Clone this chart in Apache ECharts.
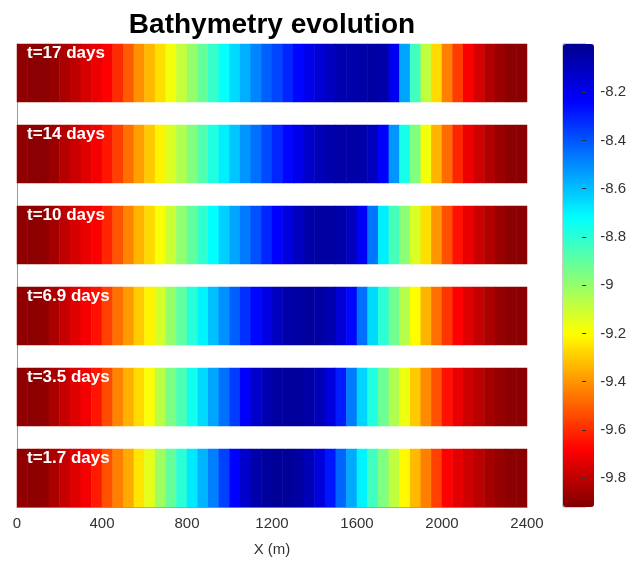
<!DOCTYPE html>
<html lang="en">

<head>
    <meta charset="UTF-8">
    <title>Bathymetry evolution</title>
    <script src="https://cdn.jsdelivr.net/npm/echarts@6/dist/echarts.min.js"></script>
    <style>
        body {
            margin: 0;
            padding: 0;
        }
    </style>
</head>

<body>
    <div id="chart" style="width: 629px;height: 563px;"></div>
    <script>
        // cell centres along the profile (m)
        var xCenters = [25, 75, 125, 175, 225, 275, 325, 375, 425, 475, 525, 575,
            625, 675, 725, 775, 825, 875, 925, 975, 1025, 1075, 1125, 1175,
            1225, 1275, 1325, 1375, 1425, 1475, 1525, 1575, 1625, 1675, 1725, 1775,
            1825, 1875, 1925, 1975, 2025, 2075, 2125, 2175, 2225, 2275, 2325, 2375];
        var xTicks = [0, 400, 800, 1200, 1600, 2000, 2400];
        var colorbarTicks = [-9.8, -9.6, -9.4, -9.2, -9, -8.8, -8.6, -8.4, -8.2];
        var times = ['t=17 days', 't=14 days', 't=10 days', 't=6.9 days', 't=3.5 days', 't=1.7 days'];

        var depth17 = [-9.89, -9.9, -9.9, -9.88, -9.84, -9.80, -9.76, -9.72, -9.68, -9.60, -9.51, -9.41,
            -9.33, -9.26, -9.18, -9.09, -9.00, -8.91, -8.82, -8.73, -8.65, -8.57, -8.49, -8.42,
            -8.37, -8.31, -8.25, -8.20, -8.15, -8.10, -8.07, -8.06, -8.05, -8.04, -8.06, -8.21,
            -8.55, -8.84, -9.08, -9.27, -9.44, -9.57, -9.69, -9.76, -9.83, -9.87, -9.9, -9.9];
        var depth14 = [-9.89, -9.9, -9.9, -9.87, -9.82, -9.78, -9.74, -9.70, -9.64, -9.56, -9.47, -9.38,
            -9.30, -9.22, -9.13, -9.05, -8.96, -8.87, -8.78, -8.69, -8.61, -8.52, -8.45, -8.38,
            -8.31, -8.25, -8.19, -8.13, -8.09, -8.06, -8.05, -8.05, -8.06, -8.10, -8.24, -8.52,
            -8.76, -8.96, -9.18, -9.34, -9.48, -9.61, -9.71, -9.77, -9.83, -9.87, -9.9, -9.9];
        var depth10 = [-9.89, -9.9, -9.89, -9.85, -9.80, -9.76, -9.72, -9.69, -9.61, -9.52, -9.43, -9.34,
            -9.27, -9.19, -9.10, -8.99, -8.90, -8.81, -8.72, -8.63, -8.55, -8.47, -8.39, -8.31,
            -8.24, -8.17, -8.10, -8.06, -8.04, -8.04, -8.06, -8.10, -8.22, -8.46, -8.69, -8.85,
            -8.98, -9.13, -9.26, -9.40, -9.53, -9.65, -9.72, -9.78, -9.83, -9.87, -9.9, -9.9];
        var depth6_9 = [-9.89, -9.9, -9.89, -9.84, -9.79, -9.74, -9.70, -9.65, -9.56, -9.47, -9.39, -9.30,
            -9.22, -9.12, -9.00, -8.90, -8.79, -8.70, -8.60, -8.51, -8.42, -8.33, -8.25, -8.18,
            -8.11, -8.06, -8.04, -8.03, -8.04, -8.07, -8.15, -8.25, -8.45, -8.65, -8.80, -8.93,
            -9.06, -9.20, -9.34, -9.47, -9.58, -9.68, -9.74, -9.79, -9.84, -9.88, -9.9, -9.9];
        var depth3_5 = [-9.89, -9.9, -9.89, -9.84, -9.79, -9.74, -9.70, -9.64, -9.54, -9.43, -9.35, -9.27,
            -9.19, -9.07, -8.95, -8.86, -8.75, -8.65, -8.55, -8.45, -8.35, -8.23, -8.13, -8.07,
            -8.04, -8.03, -8.03, -8.05, -8.09, -8.17, -8.29, -8.47, -8.64, -8.78, -8.92, -9.05,
            -9.17, -9.30, -9.42, -9.53, -9.65, -9.72, -9.77, -9.81, -9.85, -9.88, -9.9, -9.9];
        var depth1_7 = [-9.89, -9.9, -9.89, -9.84, -9.79, -9.74, -9.70, -9.63, -9.53, -9.44, -9.36, -9.25,
            -9.15, -9.02, -8.91, -8.80, -8.68, -8.58, -8.48, -8.36, -8.24, -8.13, -8.06, -8.03,
            -8.02, -8.02, -8.04, -8.08, -8.16, -8.28, -8.43, -8.56, -8.70, -8.84, -8.96, -9.08,
            -9.21, -9.33, -9.44, -9.56, -9.68, -9.73, -9.77, -9.81, -9.85, -9.88, -9.9, -9.9];
        var profiles = [depth17, depth14, depth10, depth6_9, depth3_5, depth1_7];

        var plotLeft = 17, plotWidth = 510, plotTop = 44;
        var stripH = 58, stripStep = 81;
        var font = '"Liberation Sans", Arial, sans-serif';

        var grids = [], xAxes = [], yAxes = [], series = [], labels = [];
        profiles.forEach(function (vals, i) {
            var top = plotTop + i * stripStep;
            grids.push({ left: plotLeft, top: top, width: plotWidth, height: stripH });
            xAxes.push({ type: 'category', gridIndex: i, data: xCenters, show: false });
            yAxes.push({ type: 'category', gridIndex: i, data: [times[i]], show: false });
            series.push({
                type: 'heatmap',
                xAxisIndex: i,
                yAxisIndex: i,
                data: vals.map(function (v, k) { return [k, 0, v]; }),
                itemStyle: { borderWidth: 0 },
                emphasis: { disabled: true }
            });
            labels.push({
                type: 'text',
                x: plotLeft + 10,
                y: top + 1,
                z: 100,
                style: {
                    text: times[i],
                    font: 'bold 17px ' + font,
                    fill: '#fff',
                    textAlign: 'left',
                    textVerticalAlign: 'top'
                }
            });
        });

        var plain = function (v) { return String(v); };

        // frame + x axis for the whole stack
        grids.push({ left: plotLeft, top: plotTop, width: plotWidth, height: stripStep * 5 + stripH });
        xAxes.push({
            type: 'value', gridIndex: 6, min: 0, max: 2400, interval: 400,
            name: 'X (m)', nameLocation: 'middle', nameGap: 35,
            nameTextStyle: { fontSize: 15, color: '#333', fontFamily: font },
            axisLine: { lineStyle: { color: '#999' } },
            axisTick: { show: false },
            splitLine: { show: false },
            axisLabel: { fontSize: 15, color: '#333', fontFamily: font, margin: 9,
                customValues: xTicks, formatter: plain }
        });
        yAxes.push({
            type: 'value', gridIndex: 6, min: 0, max: 1,
            axisLine: { show: true, onZero: false, lineStyle: { color: '#999' } },
            axisTick: { show: false }, axisLabel: { show: false }, splitLine: { show: false }
        });

        // colorbar ticks
        var cbLeft = 563, cbWidth = 31;
        grids.push({ left: cbLeft, top: plotTop, width: cbWidth, height: stripStep * 5 + stripH,
            show: true, borderColor: '#999', borderWidth: 1, backgroundColor: 'transparent' });
        xAxes.push({ type: 'category', gridIndex: 7, data: [''], show: false });
        yAxes.push({
            type: 'value', gridIndex: 7, position: 'right', min: -9.92, max: -8.0,
            z: 10,
            axisLine: { show: false, onZero: false },
            axisTick: { show: true, inside: true, length: 4, customValues: colorbarTicks,
                lineStyle: { color: '#333' } },
            splitLine: { show: false },
            axisLabel: { fontSize: 15, color: '#333', fontFamily: font, margin: 14,
                customValues: colorbarTicks, formatter: plain }
        });

        labels.push({
            type: 'text',
            x: plotLeft + plotWidth / 2,
            y: 11,
            style: {
                text: 'Bathymetry evolution',
                font: 'bold 28px ' + font,
                fill: '#000',
                textAlign: 'center',
                textVerticalAlign: 'top'
            }
        });

        var chart = echarts.init(document.getElementById('chart'));
        chart.setOption({
            animation: false,
            grid: grids,
            xAxis: xAxes,
            yAxis: yAxes,
            visualMap: {
                type: 'continuous',
                min: -9.92,
                max: -8.0,
                seriesIndex: [0, 1, 2, 3, 4, 5],
                left: cbLeft,
                top: plotTop,
                itemWidth: cbWidth,
                itemHeight: stripStep * 5 + stripH,
                padding: 0,
                calculable: false,
                hoverLink: false,
                text: null,
                showLabel: false,
                inRange: {
                    color: ['#800000', '#ff0000', '#ff8000', '#ffff00', '#80ff80',
                        '#00ffff', '#0080ff', '#0000ff', '#00008f']
                }
            },
            series: series,
            graphic: labels
        });
    </script>
</body>

</html>
